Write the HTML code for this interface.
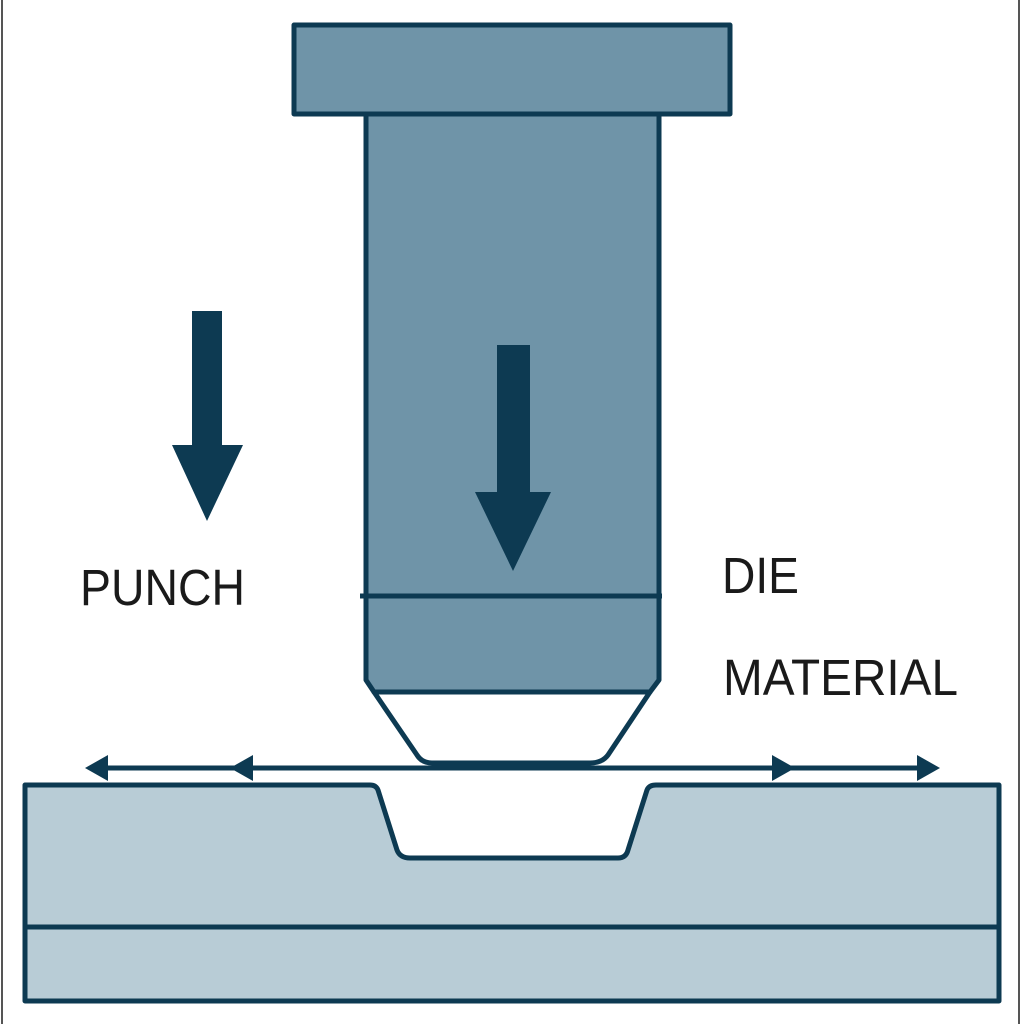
<!DOCTYPE html>
<html><head><meta charset="utf-8"><style>html,body{margin:0;padding:0;background:#fff}svg{display:block}</style></head>
<body>
<svg width="1024" height="1024" viewBox="0 0 1024 1024" xmlns="http://www.w3.org/2000/svg">
<rect width="1024" height="1024" fill="#fff"/>
<line x1="2" y1="0" x2="2" y2="1024" stroke="#555" stroke-width="2"/>
<line x1="1019" y1="0" x2="1019" y2="1024" stroke="#555" stroke-width="2"/>
<g stroke="#0d3a52" stroke-width="5" stroke-linejoin="round">
<rect x="294" y="25" width="436" height="89" fill="#6f94a8"/>
<path d="M366 114 L659 114 L659 680 L650 692 L374 692 L366 680 Z" fill="#6f94a8"/>
<line x1="360" y1="596" x2="662" y2="596"/>
<path d="M374 692 L650 692 L608 755 Q602 763 590 763 L432 763 Q422 763 417 755 Z" fill="#fff"/>
<path d="M25 785 L370 785 Q376 785 378 790 L397 850 Q400 858 410 858 L618 858 Q626 858 628 850 L647 790 Q649 785 656 785 L999 785 L999 1001 L25 1001 Z" fill="#b8ccd6"/>
<line x1="25" y1="927" x2="999" y2="927"/>
</g>
<line x1="100" y1="768" x2="925" y2="768" stroke="#0d3a52" stroke-width="5"/>
<g fill="#0d3a52">
<polygon points="85,768 108,755 108,781"/>
<polygon points="230,768 253,755 253,781"/>
<polygon points="795,768 772,755 772,781"/>
<polygon points="940,768 917,755 917,781"/>
<polygon points="192,311 222,311 222,445 243,445 207,521 172,445 192,445"/>
<polygon points="497,345 530,345 530,492 551,492 513,571 475,492 497,492"/>
</g>
<g font-family="'Liberation Sans', sans-serif" font-size="51" fill="#1a1a1a">
<text x="80" y="605" textLength="165" lengthAdjust="spacingAndGlyphs">PUNCH</text>
<text x="722" y="593" textLength="77" lengthAdjust="spacingAndGlyphs">DIE</text>
<text x="723" y="695" textLength="235" lengthAdjust="spacingAndGlyphs">MATERIAL</text>
</g>
</svg>
</body></html>
